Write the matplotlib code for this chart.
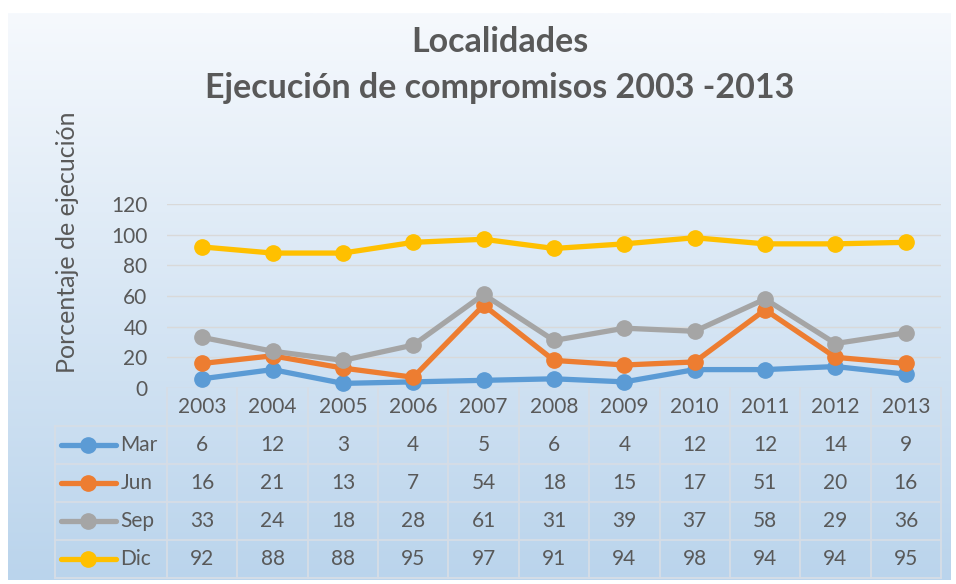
import matplotlib
matplotlib.use("Agg")
import matplotlib.pyplot as plt
import numpy as np

# Data
years = ['2003', '2004', '2005', '2006', '2007', '2008', '2009', '2010', '2011', '2012', '2013']
series_names = ['Mar', 'Jun', 'Sep', 'Dic']
mar = [6, 12, 3, 4, 5, 6, 4, 12, 12, 14, 9]
jun = [16, 21, 13, 7, 54, 18, 15, 17, 51, 20, 16]
sep = [33, 24, 18, 28, 61, 31, 39, 37, 58, 29, 36]
dic = [92, 88, 88, 95, 97, 91, 94, 98, 94, 94, 95]
yticks = [0, 20, 40, 60, 80, 100, 120]

series = [mar, jun, sep, dic]
colors = ['#5b9bd5', '#ed7d31', '#a5a5a5', '#ffc000']
txt = '#595959'
plt.rcParams['font.family'] = ['Lato', 'DejaVu Sans']

W, H = 956, 584
fig = plt.figure(figsize=(W / 100, H / 100), dpi=100)


def box(x0, y0, x1, y1):
    # pixel box (top-left origin) -> figure fraction rect
    return [x0 / W, 1 - y1 / H, (x1 - x0) / W, (y1 - y0) / H]


# gradient background
bg = fig.add_axes(box(8, 13, 950, 580))
grad = np.linspace(0, 1, 256).reshape(-1, 1)
cmap = matplotlib.colors.LinearSegmentedColormap.from_list('bg', ['#f6f9fd', '#bad4ec'])
bg.imshow(grad, aspect='auto', cmap=cmap, extent=[0, 1, 0, 1])
bg.axis('off')
bg.set_zorder(0)

# main plot
ax = fig.add_axes(box(167, 204, 941, 388))
ax.set_zorder(2)
ax.patch.set_alpha(0)
x = np.arange(len(years))
for vals, c in zip(series, colors):
    ax.plot(x, vals, color=c, lw=3.8, marker='o', ms=11, zorder=3, clip_on=False)
ax.set_xlim(-0.5, len(years) - 0.5)
ax.set_ylim(0, 120)
ax.set_yticks(yticks)
ax.set_xticks([])
ax.grid(axis='y', color='#d9d9d9', lw=1)
ax.set_axisbelow(True)
for s in ax.spines.values():
    s.set_visible(False)
ax.tick_params(axis='y', length=0, labelsize=15, labelcolor=txt, pad=14)

fig.text(68 / W, 1 - 242 / H, 'Porcentaje de ejecución', rotation=90,
         ha='center', va='center', fontsize=18, color=txt)

fig.text(500 / W, 1 - 42 / H, 'Localidades', ha='center', va='center',
         fontsize=24.5, fontweight='bold', color=txt)
fig.text(500 / W, 1 - 88 / H, 'Ejecución de compromisos 2003 -2013', ha='center',
         va='center', fontsize=24.5, fontweight='bold', color=txt)

# data table
left_units = (167 - 55) / (774 / len(years))
tx0 = -0.5 - left_units
tab = fig.add_axes(box(55, 388, 941, 578))
tab.set_zorder(2)
tab.patch.set_alpha(0)
tab.set_xlim(tx0, len(years) - 0.5)
tab.set_ylim(5, 0)
tab.axis('off')
lc = '#d6dde6'
for k in range(len(years) + 1):
    tab.plot([k - 0.5, k - 0.5], [0, 5], color=lc, lw=1.3, clip_on=False)
tab.plot([tx0, tx0], [1, 5], color=lc, lw=1.3, clip_on=False)
for r in range(1, 6):
    tab.plot([tx0, len(years) - 0.5], [r, r], color=lc, lw=1.3, clip_on=False)
for i, yr in enumerate(years):
    tab.text(i, 0.5, yr, ha='center', va='center', fontsize=15, color=txt)
for r, (name, vals, c) in enumerate(zip(series_names, series, colors)):
    yy = r + 1.5
    tab.plot([tx0 + 0.09, tx0 + 0.87], [yy, yy], color=c, lw=3.8, solid_capstyle='round')
    tab.plot([tx0 + 0.47], [yy], 'o', color=c, ms=11)
    tab.text(tx0 + 0.93, yy, name, ha='left', va='center', fontsize=15, color=txt)
    for i, v in enumerate(vals):
        tab.text(i, yy, str(v), ha='center', va='center', fontsize=15, color=txt)

fig.savefig('out.png', dpi=100)
